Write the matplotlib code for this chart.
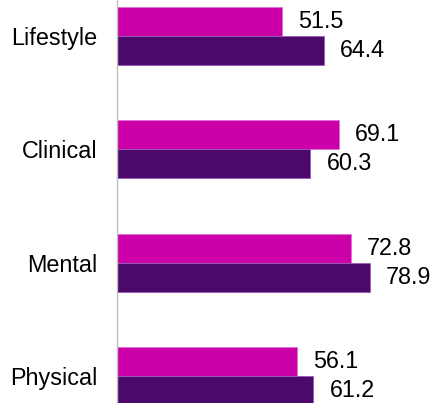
import matplotlib.pyplot as plt
import numpy as np

plt.rcParams["font.family"] = ["Liberation Sans", "DejaVu Sans"]

categories = ["Physical", "Mental", "Clinical", "Lifestyle"]
series_a = [56.1, 72.8, 69.1, 51.5]   # magenta, upper bar
series_b = [61.2, 78.9, 60.3, 64.4]   # dark purple, lower bar

color_a = "#CC00A8"
color_b = "#4B0A6B"

fig = plt.figure(figsize=(4.35, 4.03), dpi=100)
ax = fig.add_axes([117.5 / 435, 0, 1 - 117.5 / 435, 1])

y = np.arange(len(categories))
h = 0.256
ax.barh(y + h / 2, series_a, height=h, color=color_a, edgecolor="#E070D8", linewidth=0.6)
ax.barh(y - h / 2, series_b, height=h, color=color_b, edgecolor="#9A5AB8", linewidth=0.6)

fs = 16.8
for yi, a, b in zip(y, series_a, series_b):
    ax.text(a + 5, yi + h / 2, f"{a:.1f}", va="center", ha="left", fontsize=fs)
    ax.text(b + 5, yi - h / 2, f"{b:.1f}", va="center", ha="left", fontsize=fs)

ax.set_xlim(0, 99.2)
ax.set_ylim(-0.238, 3.318)
ax.set_yticks(y)
ax.set_yticklabels(categories, fontsize=fs)
ax.tick_params(axis="y", length=0, pad=14.5)
ax.set_xticks([])
for side in ["top", "right", "bottom"]:
    ax.spines[side].set_visible(False)
ax.spines["left"].set_color("#BFBFBF")
ax.spines["left"].set_linewidth(1)

fig.savefig("out.png", dpi=100)
